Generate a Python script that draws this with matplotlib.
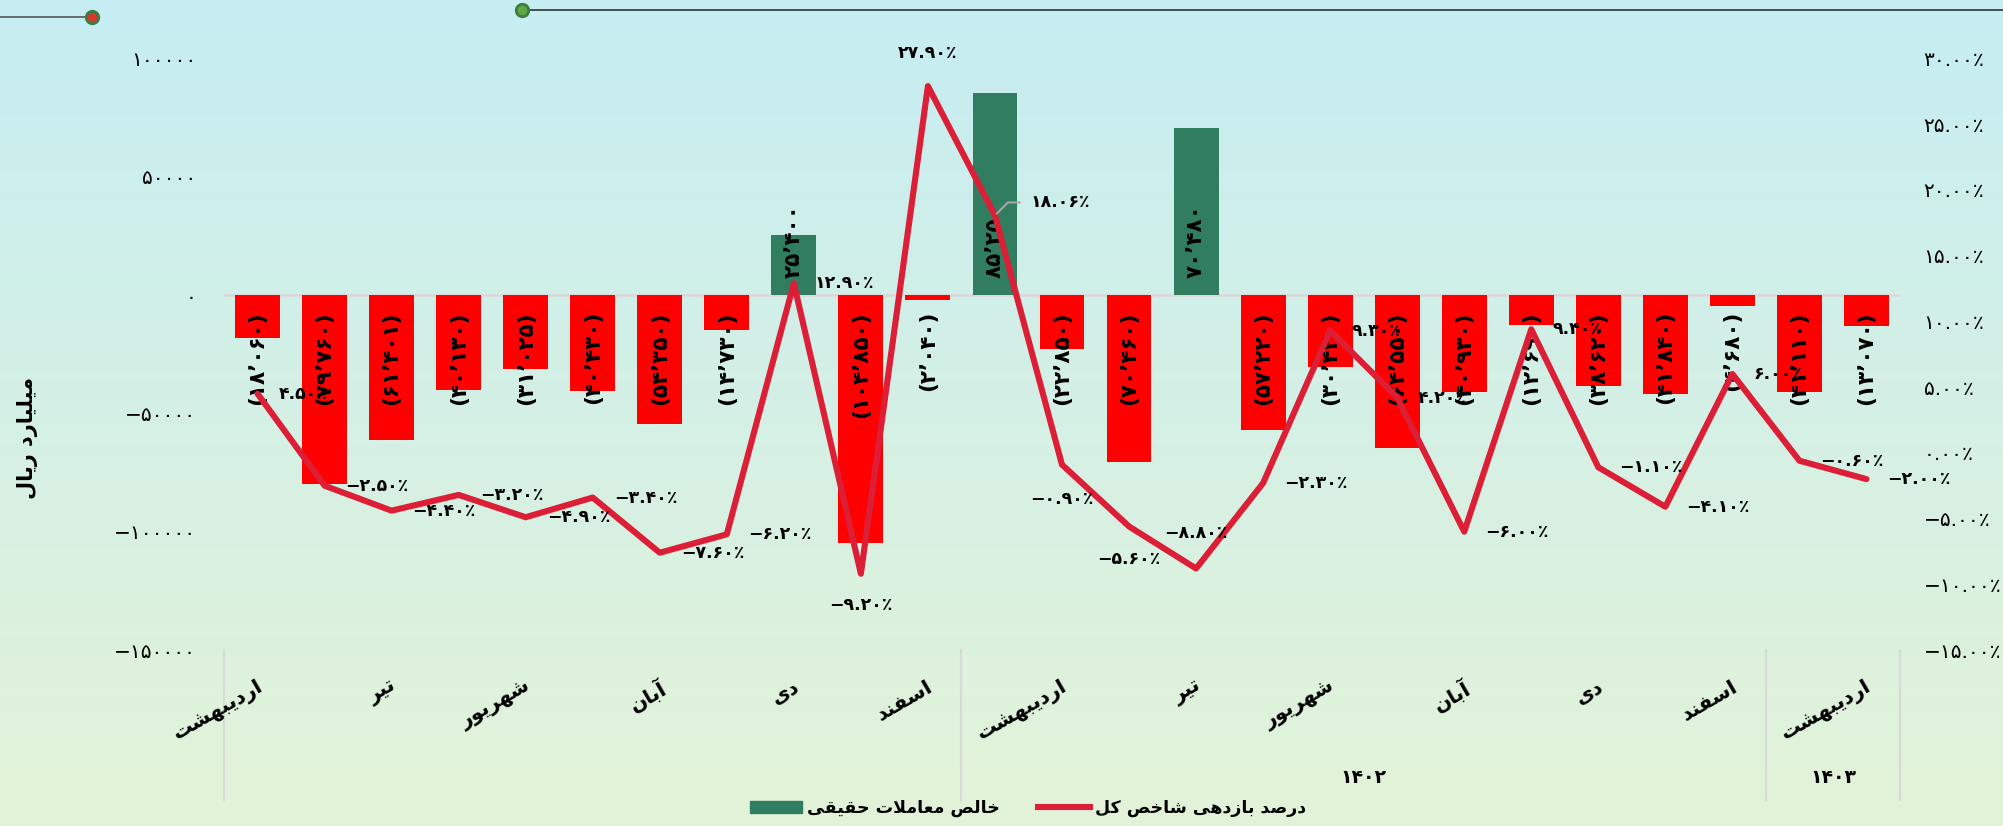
import numpy as np
import matplotlib
matplotlib.use("Agg")
import matplotlib.pyplot as plt
import matplotlib.transforms as mtrans
from matplotlib.lines import Line2D
from matplotlib.patches import Patch

# ---------------- data ----------------
months = ["اردیبهشت", "خرداد", "تیر", "مرداد", "شهریور", "مهر", "آبان", "آذر", "دی", "بهمن", "اسفند",
          "فروردین", "اردیبهشت", "خرداد", "تیر", "مرداد", "شهریور", "مهر", "آبان", "آذر", "دی", "بهمن", "اسفند",
          "فروردین", "اردیبهشت"]
year_groups = ["۱۴۰۱", "۱۴۰۲", "۱۴۰۳"]
year_sizes = [11, 12, 2]
net_real = [-18060, -79760, -61401, -40130, -31025, -40430, -54350, -14730, 25400, -104850,
            -2040, 85250, -22850, -70460, 70480, -57220, -30420, -64550, -40930, -12690,
            -38620, -41840, -4680, -41110, -13070]
index_return = [4.50, -2.50, -4.40, -3.20, -4.90, -3.40, -7.60, -6.20, 12.90, -9.20,
                27.90, 18.06, -0.90, -5.60, -8.80, -2.30, 9.30, 4.20, -6.00, 9.40,
                -1.10, -4.10, 6.00, -0.60, -2.00]
left_ticks = [100000, 50000, 0, -50000, -100000, -150000]
right_ticks = [30, 25, 20, 15, 10, 5, 0, -5, -10, -15]
series_bar = "خالص معاملات حقیقی"
series_line = "درصد بازدهی شاخص کل"
y_title = "میلیارد ریال"

# ---------------- persian shaping helpers ----------------
FORMS = {  # isolated, final, initial, medial
    'ا': ('\uFE8D', '\uFE8E', None, None),
    'آ': ('\uFE81', '\uFE82', None, None),
    'ب': ('\uFE8F', '\uFE90', '\uFE91', '\uFE92'),
    'ت': ('\uFE95', '\uFE96', '\uFE97', '\uFE98'),
    'ح': ('\uFEA1', '\uFEA2', '\uFEA3', '\uFEA4'),
    'خ': ('\uFEA5', '\uFEA6', '\uFEA7', '\uFEA8'),
    'د': ('\uFEA9', '\uFEAA', None, None),
    'ذ': ('\uFEAB', '\uFEAC', None, None),
    'ر': ('\uFEAD', '\uFEAE', None, None),
    'ز': ('\uFEAF', '\uFEB0', None, None),
    'س': ('\uFEB1', '\uFEB2', '\uFEB3', '\uFEB4'),
    'ش': ('\uFEB5', '\uFEB6', '\uFEB7', '\uFEB8'),
    'ص': ('\uFEB9', '\uFEBA', '\uFEBB', '\uFEBC'),
    'ع': ('\uFEC9', '\uFECA', '\uFECB', '\uFECC'),
    'ف': ('\uFED1', '\uFED2', '\uFED3', '\uFED4'),
    'ق': ('\uFED5', '\uFED6', '\uFED7', '\uFED8'),
    'ل': ('\uFEDD', '\uFEDE', '\uFEDF', '\uFEE0'),
    'م': ('\uFEE1', '\uFEE2', '\uFEE3', '\uFEE4'),
    'ن': ('\uFEE5', '\uFEE6', '\uFEE7', '\uFEE8'),
    'ه': ('\uFEE9', '\uFEEA', '\uFEEB', '\uFEEC'),
    'و': ('\uFEED', '\uFEEE', None, None),
    'ی': ('\uFBFC', '\uFBFD', '\uFBFE', '\uFBFF'),
    'ک': ('\uFB8E', '\uFB8F', '\uFB90', '\uFB91'),
}


def shape(text):
    out = []
    chars = list(text)
    n = len(chars)
    i = 0
    while i < n:
        c = chars[i]
        if c not in FORMS:
            out.append(c)
            i += 1
            continue
        prev = chars[i - 1] if i > 0 else None
        joins_prev = prev is not None and prev in FORMS and FORMS[prev][2] is not None
        if c == 'ل' and i + 1 < n and chars[i + 1] == 'ا':
            out.append('\uFEFC' if joins_prev else '\uFEFB')
            i += 2
            continue
        nxt = chars[i + 1] if i + 1 < n else None
        joins_next = FORMS[c][2] is not None and nxt is not None and nxt in FORMS
        iso, fin, ini, med = FORMS[c]
        if joins_prev and joins_next:
            out.append(med)
        elif joins_prev:
            out.append(fin)
        elif joins_next:
            out.append(ini)
        else:
            out.append(iso)
        i += 1
    return ''.join(out[::-1])


FA = str.maketrans('0123456789', '۰۱۲۳۴۵۶۷۸۹')


def fa_num(s):
    return s.translate(FA).replace('-', '−')


def bar_label(v):
    s = fa_num(f"{abs(v):,}").replace(',', '٬')
    return f"({s})" if v < 0 else s


def pct_label(v):
    return fa_num(f"{v:.2f}") + '٪'


# ---------------- figure ----------------
plt.rcParams['font.family'] = ['DejaVu Sans']
W, H = 2003, 826
fig = plt.figure(figsize=(W / 100, H / 100), dpi=100)

bg = fig.add_axes([0, 0, 1, 1], zorder=-10)
g = np.linspace(0, 1, 256)[:, None, None]
top_c = np.array([198, 237, 242]) / 255.0
bot_c = np.array([227, 243, 216]) / 255.0
img = top_c[None, None, :] * (1 - g) + bot_c[None, None, :] * g
bg.imshow(img, aspect='auto', extent=[0, 1, 0, 1], origin='upper')
bg.set_axis_off()

ax = fig.add_axes([224 / W, 1 - 650 / H, 1676 / W, 591.5 / H])
ax.patch.set_alpha(0)
ax2 = ax.twinx()
ax2.patch.set_alpha(0)

x = np.arange(len(net_real))
GREEN = '#317D5F'
RED = '#FF0000'
LINE = '#DC1E37'
colors = [GREEN if v > 0 else RED for v in net_real]
ax.axhline(0, color='#D9D9D9', lw=2, zorder=0)
ax.bar(x, net_real, width=0.67, color=colors, zorder=2)
ax.set_xlim(-0.5, len(net_real) - 0.5)
ax.set_ylim(-150000, 100000)
ax.set_yticks(left_ticks)
ax.set_yticklabels([fa_num(str(t)) for t in left_ticks], fontsize=14.5)
ax.tick_params(axis='y', length=0, pad=20)
ax.set_xticks([])
for sp in ax.spines.values():
    sp.set_visible(False)
for sp in ax2.spines.values():
    sp.set_visible(False)

for i, v in enumerate(net_real):
    if v < 0:
        ax.annotate(bar_label(v), (i, 0), xytext=(0, -16), textcoords='offset pixels',
                    rotation=90, rotation_mode='anchor', ha='right', va='center',
                    fontsize=15.5, fontweight='bold', zorder=3)
    else:
        ax.annotate(bar_label(v), (i, 0), xytext=(0, 17), textcoords='offset pixels',
                    rotation=90, rotation_mode='anchor', ha='left', va='center',
                    fontsize=15.5, fontweight='bold', zorder=3)

ax2.plot(x, index_return, color=LINE, lw=4.4, solid_joinstyle='round',
         solid_capstyle='round', zorder=4)
ax2.set_ylim(-15, 30)
ax2.set_yticks(right_ticks)
ax2.set_yticklabels([pct_label(t) for t in right_ticks], fontsize=14.5)
ax2.tick_params(axis='y', length=0, pad=17)

special = {9: ('center', 0, -31), 10: ('center', 0, 33), 12: ('center', 0, -34),
           13: ('center', 0, -33), 14: ('center', 0, 36)}
for i, v in enumerate(index_return):
    if i == 11:
        ax2.annotate(pct_label(v), (i, v), xytext=(36, 13), textcoords='offset pixels',
                     ha='left', va='center', fontsize=12.5, fontweight='bold', zorder=5,
                     arrowprops=dict(arrowstyle='-', color='#A6A6A6', lw=1.5,
                                     connectionstyle='angle,angleA=0,angleB=45',
                                     shrinkA=6, shrinkB=2, relpos=(0, 0.5)))
        continue
    ha, dx, dy = special.get(i, ('left', 21, 0))
    ax2.annotate(pct_label(v), (i, v), xytext=(dx, dy), textcoords='offset pixels',
                 ha=ha, va='center', fontsize=12.5, fontweight='bold', zorder=5)

# category labels (every other one)
trans = mtrans.blended_transform_factory(ax.transData, ax.transAxes)
for i in range(0, len(months), 2):
    ax.text(i - 0.02, -0.045, shape(months[i]), transform=trans, rotation=30,
            rotation_mode='anchor', ha='right', va='top', fontsize=14.5,
            fontweight='bold')

# group separators and year labels
bounds = np.cumsum([0] + year_sizes) - 0.5
for b in bounds:
    ax.add_line(Line2D([b, b], [0, -0.2536], transform=trans, color='#D9D9D9',
                       lw=1.5, clip_on=False))
for k, yl in enumerate(year_groups):
    if k == 0:
        continue
    cx = (bounds[k] + bounds[k + 1]) / 2
    ax.text(cx, -0.215, yl, transform=trans, ha='center', va='center',
            fontsize=13.5, fontweight='bold')

# y axis title
fig.text(28 / W, 1 - 438 / H, shape(y_title), rotation=90, ha='center', va='center',
         fontsize=15, fontweight='bold')

# legend
handles = [Patch(facecolor=GREEN, edgecolor=GREEN),
           Line2D([0], [0], color=LINE, lw=4.4)]
fig.legend(handles, [shape(series_bar), shape(series_line)], loc='center',
           bbox_to_anchor=(1028 / W, 1 - 808 / H), ncol=2, frameon=False,
           prop={'size': 12.5, 'weight': 'bold'}, handlelength=3.0, handleheight=0.7,
           columnspacing=2.2, handletextpad=0.3)

# decorative top lines
fig.add_artist(Line2D([0, 92 / W], [1 - 17 / H, 1 - 17 / H], color='#555555', lw=1.2))
fig.add_artist(Line2D([522 / W, 1], [1 - 10 / H, 1 - 10 / H], color='#333333', lw=1.2))
for (px, py, inner) in [(92, 17, '#D23A2E'), (522, 10, '#5DAA3F')]:
    fig.add_artist(Line2D([px / W], [1 - py / H], marker='o', markersize=9,
                          markerfacecolor=inner, markeredgecolor='#3A7D44',
                          markeredgewidth=2, linestyle='none'))

fig.savefig('out.png', dpi=100)
